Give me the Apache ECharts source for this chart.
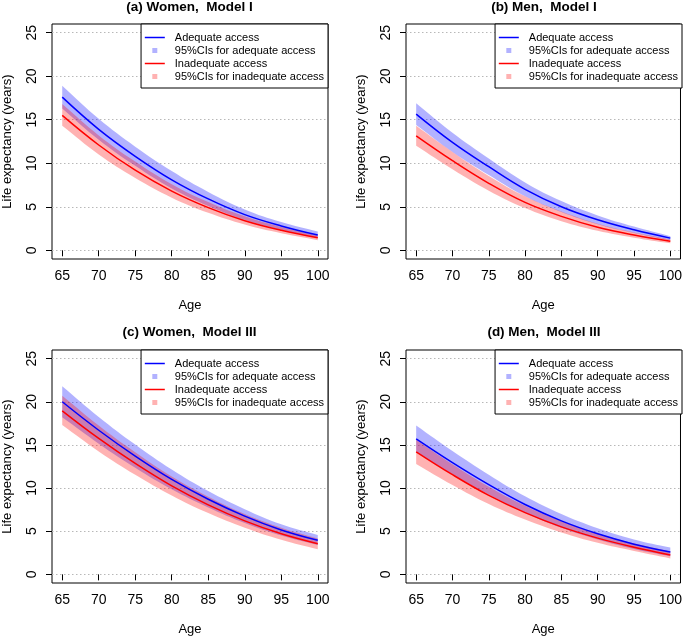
<!DOCTYPE html>
<html>
<head>
<meta charset="utf-8">
<script src="https://cdn.jsdelivr.net/npm/echarts@6/dist/echarts.min.js"></script>
<style>
html,body{margin:0;padding:0;background:#fff;}
#chart{width:685px;height:637px;}
</style>
</head>
<body>
<div id="chart"></div>
<script>
// ---- data ----
const ages = [65, 70, 75, 80, 85, 90, 95, 100];
const xTicks = [65, 70, 75, 80, 85, 90, 95, 100];
const yTicks = [0, 5, 10, 15, 20, 25];

const titles = ['(a) Women,  Model I', '(b) Men,  Model I', '(c) Women,  Model III', '(d) Men,  Model III'];
const legendNames = ['Adequate access', '95%CIs for adequate access', 'Inadequate access', '95%CIs for inadequate access'];

// (a) Women, Model I
const aAdeq   = [17.6, 13.9, 10.8, 8.1, 5.9, 4.1, 2.8, 1.75];
const aAdeqHi = [18.9, 15.1, 11.9, 9.1, 6.7, 4.7, 3.25, 2.15];
const aAdeqLo = [16.3, 12.7, 9.7, 7.1, 5.1, 3.5, 2.35, 1.42];
const aInad   = [15.5, 12.1, 9.2, 6.8, 4.9, 3.4, 2.3, 1.45];
const aInadHi = [16.8, 13.2, 10.2, 7.6, 5.55, 3.9, 2.68, 1.72];
const aInadLo = [14.3, 11.0, 8.3, 6.05, 4.3, 2.95, 1.95, 1.16];

// (b) Men, Model I
const bAdeq   = [15.65, 12.4, 9.6, 7.0, 5.0, 3.5, 2.35, 1.4];
const bAdeqHi = [16.9, 13.5, 10.55, 7.8, 5.65, 4.0, 2.72, 1.62];
const bAdeqLo = [14.4, 11.3, 8.65, 6.2, 4.4, 3.0, 2.0, 1.15];
const bInad   = [13.15, 10.3, 7.7, 5.5, 3.9, 2.65, 1.75, 1.05];
const bInadHi = [14.3, 11.3, 8.55, 6.2, 4.45, 3.05, 2.05, 1.25];
const bInadLo = [12.0, 9.3, 6.85, 4.85, 3.35, 2.25, 1.45, 0.8];

// (c) Women, Model III
const cAdeq   = [20.0, 16.7, 13.7, 11.0, 8.7, 6.75, 5.15, 3.95];
const cAdeqHi = [21.8, 18.25, 15.05, 12.15, 9.65, 7.55, 5.8, 4.55];
const cAdeqLo = [18.2, 15.15, 12.35, 9.85, 7.75, 5.95, 4.5, 3.4];
const cInad   = [18.95, 15.75, 12.85, 10.25, 8.05, 6.2, 4.7, 3.55];
const cInadHi = [20.7, 17.25, 14.15, 11.35, 9.0, 7.0, 5.4, 4.15];
const cInadLo = [17.3, 14.25, 11.55, 9.15, 7.1, 5.4, 4.0, 2.9];

// (d) Men, Model III
const dAdeq   = [15.7, 12.95, 10.4, 8.1, 6.2, 4.7, 3.5, 2.6];
const dAdeqHi = [17.25, 14.3, 11.55, 9.05, 7.0, 5.35, 4.05, 3.1];
const dAdeqLo = [14.15, 11.6, 9.25, 7.15, 5.4, 4.05, 2.95, 2.1];
const dInad   = [14.2, 11.55, 9.15, 7.15, 5.5, 4.2, 3.15, 2.25];
const dInadHi = [15.6, 12.75, 10.15, 7.95, 6.15, 4.75, 3.6, 2.65];
const dInadLo = [12.8, 10.35, 8.15, 6.35, 4.85, 3.65, 2.7, 1.85];

// ---- styling / layout ----
const FONT = '"Liberation Sans", Arial, Helvetica, sans-serif';
const BLUE = '#0000ff', RED = '#ff0000';
const BLUE_BAND = 'rgba(0,0,255,0.3)', RED_BAND = 'rgba(255,0,0,0.3)';
const SQUARE = 'path://M0,0L10,0L10,10L0,10Z';
const CLEAR = 'rgba(0,0,0,0)';

const panels = [
  {grid: {left: 51, top: 24, width: 277, height: 235}, legendRight: 357, titleTop: 0,
   adeq: aAdeq, adeqHi: aAdeqHi, adeqLo: aAdeqLo, inad: aInad, inadHi: aInadHi, inadLo: aInadLo},
  {grid: {left: 406, top: 24, width: 276, height: 235}, legendRight: 3, titleTop: 0,
   adeq: bAdeq, adeqHi: bAdeqHi, adeqLo: bAdeqLo, inad: bInad, inadHi: bInadHi, inadLo: bInadLo},
  {grid: {left: 51, top: 350, width: 277, height: 235}, legendRight: 357, titleTop: 325,
   adeq: cAdeq, adeqHi: cAdeqHi, adeqLo: cAdeqLo, inad: cInad, inadHi: cInadHi, inadLo: cInadLo},
  {grid: {left: 406, top: 350, width: 276, height: 235}, legendRight: 3, titleTop: 325,
   adeq: dAdeq, adeqHi: dAdeqHi, adeqLo: dAdeqLo, inad: dInad, inadHi: dInadHi, inadLo: dInadLo}
];

function bandRender(lo, hi) {
  return function (params, api) {
    if (params.dataIndex !== 0) return null;
    const n = ages.length;
    const pts = [];
    for (let i = 0; i < n; i++) {
      const p = api.coord([ages[i], hi[i]]);
      pts.push(p);
      if (i === 0 || i === n - 1) pts.push(p.slice());
    }
    for (let i = n - 1; i >= 0; i--) {
      const p = api.coord([ages[i], lo[i]]);
      pts.push(p);
      if (i === 0 || i === n - 1) pts.push(p.slice());
    }
    return {
      type: 'polygon',
      shape: {points: pts, smooth: 0.4},
      style: {fill: api.visual('color'), stroke: null}
    };
  };
}

const grid = [], xAxis = [], yAxis = [], series = [], legend = [], title = [];

panels.forEach((p, i) => {
  grid.push(Object.assign({show: true, borderColor: '#000', borderWidth: 1, backgroundColor: 'transparent'}, p.grid));
  xAxis.push({
    gridIndex: i, type: 'value', min: 63.6, max: 101.4,
    axisLine: {show: false},
    axisTick: {show: true, inside: false, length: 6, lineStyle: {color: '#000', width: 1}, customValues: xTicks},
    axisLabel: {customValues: xTicks, color: '#000', fontSize: 14, margin: 10, fontFamily: FONT},
    splitLine: {show: false},
    name: 'Age', nameLocation: 'middle', nameGap: 40,
    nameTextStyle: {color: '#000', fontSize: 13, fontFamily: FONT}
  });
  yAxis.push({
    gridIndex: i, type: 'value', min: -1, max: 26,
    axisLine: {show: false},
    axisTick: {show: true, inside: false, length: 6, lineStyle: {color: '#000', width: 1}, customValues: yTicks},
    axisLabel: {customValues: yTicks, color: '#000', fontSize: 14, margin: 13, rotate: 90, fontFamily: FONT},
    splitLine: {show: false},
    name: 'Life expectancy (years)', nameLocation: 'middle', nameGap: 38,
    nameTextStyle: {color: '#000', fontSize: 13, fontFamily: FONT}
  });
  // dotted horizontal grid lines
  series.push({
    type: 'line', xAxisIndex: i, yAxisIndex: i, data: [], silent: true, z: 1,
    markLine: {
      silent: true, z: 1, symbol: ['none', 'none'], animation: false,
      label: {show: false},
      lineStyle: {color: '#b8b8b8', type: [1.5, 2.5], width: 1},
      emphasis: {disabled: true},
      data: yTicks.map(v => ({yAxis: v}))
    }
  });
  series.push({
    name: legendNames[1], type: 'custom', xAxisIndex: i, yAxisIndex: i, z: 2, silent: true,
    itemStyle: {color: BLUE_BAND},
    renderItem: bandRender(p.adeqLo, p.adeqHi),
    encode: {x: 0, y: [1, 2]},
    data: ages.map((a, k) => [a, p.adeqLo[k], p.adeqHi[k]])
  });
  series.push({
    name: legendNames[3], type: 'custom', xAxisIndex: i, yAxisIndex: i, z: 2, silent: true,
    itemStyle: {color: RED_BAND},
    renderItem: bandRender(p.inadLo, p.inadHi),
    encode: {x: 0, y: [1, 2]},
    data: ages.map((a, k) => [a, p.inadLo[k], p.inadHi[k]])
  });
  series.push({
    name: legendNames[0], type: 'line', xAxisIndex: i, yAxisIndex: i, z: 3,
    symbol: 'none', showSymbol: false, smooth: 0.4, silent: true,
    color: BLUE, lineStyle: {color: BLUE, width: 1.5},
    data: ages.map((a, k) => [a, p.adeq[k]])
  });
  series.push({
    name: legendNames[2], type: 'line', xAxisIndex: i, yAxisIndex: i, z: 3,
    symbol: 'none', showSymbol: false, smooth: 0.4, silent: true,
    color: RED, lineStyle: {color: RED, width: 1.5},
    data: ages.map((a, k) => [a, p.inad[k]])
  });
  legend.push({
    right: p.legendRight, top: p.grid.top, orient: 'vertical',
    itemWidth: 20, itemHeight: 5, itemGap: 0,
    padding: [7, 4, 5, 3],
    borderColor: '#000', borderWidth: 1, backgroundColor: '#fff', borderRadius: 0,
    selectedMode: false,
    textStyle: {fontSize: 11, color: '#000', lineHeight: 13, fontFamily: FONT, padding: [0, 0, 0, 5]},
    data: [
      {name: legendNames[0], itemStyle: {color: CLEAR, borderColor: CLEAR, borderWidth: 0}, lineStyle: {color: BLUE, width: 1.5}},
      {name: legendNames[1], icon: SQUARE, itemStyle: {color: BLUE_BAND}},
      {name: legendNames[2], itemStyle: {color: CLEAR, borderColor: CLEAR, borderWidth: 0}, lineStyle: {color: RED, width: 1.5}},
      {name: legendNames[3], icon: SQUARE, itemStyle: {color: RED_BAND}}
    ]
  });
  title.push({
    text: titles[i], left: p.grid.left + p.grid.width / 2, top: p.titleTop, textAlign: 'center', padding: 0,
    textStyle: {fontSize: 13.5, fontWeight: 'bold', color: '#000', fontFamily: FONT}
  });
});

const chart = echarts.init(document.getElementById('chart'), null, {renderer: 'canvas'});
chart.setOption({
  animation: false,
  backgroundColor: '#fff',
  title: title, grid: grid, xAxis: xAxis, yAxis: yAxis, legend: legend, series: series
});
</script>
</body>
</html>
